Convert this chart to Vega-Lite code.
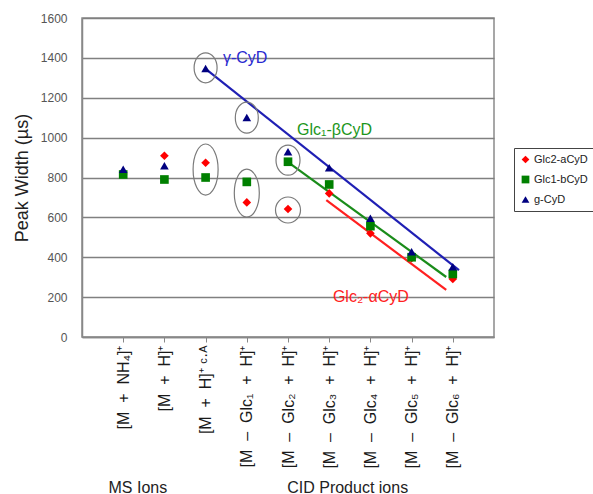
{
  "$schema": "https://vega.github.io/schema/vega-lite/v6.json",
  "width": 412,
  "height": 319,
  "autosize": {"type": "none"},
  "padding": {"left": 82, "top": 18, "right": 99, "bottom": 157},
  "background": "white",
  "config": {
    "view": {"stroke": "#8a8a8a", "strokeWidth": 1.5},
    "font": "Liberation Sans",
    "axisX": {
      "labelAngle": -90,
      "labelAlign": "right",
      "labelBaseline": "middle",
      "labelFontSize": 16,
      "labelColor": "#1a1a1a",
      "labelPadding": 3,
      "labelOverlap": false,
      "labelFlush": false,
      "labelLimit": 300,
      "tickSize": 5,
      "tickColor": "#888888",
      "domainColor": "#888888",
      "domainWidth": 1.5,
      "grid": false,
      "titleFontSize": 16,
      "titleFontWeight": "normal",
      "titleColor": "#222222",
      "titleAnchor": "start",
      "titleAlign": "left",
      "titleBaseline": "alphabetic",
      "titleX": 26,
      "titleY": 155
    },
    "axisY": {
      "grid": true,
      "gridColor": "#808080",
      "gridWidth": 1.5,
      "ticks": false,
      "labelFontSize": 12,
      "labelColor": "#555555",
      "labelPadding": 15,
      "labelOverlap": false,
      "domainColor": "#888888",
      "domainWidth": 1.5,
      "titleFontSize": 18,
      "titleFontWeight": "normal",
      "titleColor": "#222222",
      "titlePadding": 9
    }
  },
  "datasets": {
    "points": [
      {"series": "Glc2-aCyD", "x": 1, "y": 818},
      {"series": "Glc2-aCyD", "x": 2, "y": 909},
      {"series": "Glc2-aCyD", "x": 3, "y": 874},
      {"series": "Glc2-aCyD", "x": 4, "y": 675},
      {"series": "Glc2-aCyD", "x": 5, "y": 642},
      {"series": "Glc2-aCyD", "x": 6, "y": 720},
      {"series": "Glc2-aCyD", "x": 7, "y": 520},
      {"series": "Glc2-aCyD", "x": 8, "y": 395},
      {"series": "Glc2-aCyD", "x": 9, "y": 291},
      {"series": "Glc1-bCyD", "x": 1, "y": 815},
      {"series": "Glc1-bCyD", "x": 2, "y": 790},
      {"series": "Glc1-bCyD", "x": 3, "y": 800},
      {"series": "Glc1-bCyD", "x": 4, "y": 778},
      {"series": "Glc1-bCyD", "x": 5, "y": 879},
      {"series": "Glc1-bCyD", "x": 6, "y": 765},
      {"series": "Glc1-bCyD", "x": 7, "y": 556},
      {"series": "Glc1-bCyD", "x": 8, "y": 400},
      {"series": "Glc1-bCyD", "x": 9, "y": 316},
      {"series": "g-CyD", "x": 1, "y": 842},
      {"series": "g-CyD", "x": 2, "y": 859},
      {"series": "g-CyD", "x": 3, "y": 1347},
      {"series": "g-CyD", "x": 4, "y": 1101},
      {"series": "g-CyD", "x": 5, "y": 929},
      {"series": "g-CyD", "x": 6, "y": 849},
      {"series": "g-CyD", "x": 7, "y": 595},
      {"series": "g-CyD", "x": 8, "y": 428},
      {"series": "g-CyD", "x": 9, "y": 352}
    ],
    "trend": [
      {"series": "Glc2-aCyD", "x": 5.93, "y": 687},
      {"series": "Glc2-aCyD", "x": 8.84, "y": 236},
      {"series": "Glc1-bCyD", "x": 5.0, "y": 877},
      {"series": "Glc1-bCyD", "x": 8.84, "y": 301},
      {"series": "g-CyD", "x": 3.0, "y": 1345},
      {"series": "g-CyD", "x": 9.15, "y": 335}
    ],
    "notes": [
      {"series": "g-CyD", "label": "γ-CyD", "x": 3.42, "y": 1399},
      {"series": "Glc1-bCyD", "label": "Glc₁-βCyD", "x": 5.22, "y": 1038},
      {"series": "Glc2-aCyD", "label": "Glc₂-αCyD", "x": 6.09, "y": 200}
    ],
    "ellipses": [
      {"eid": "e1", "x": 3, "y": 1350},
      {"eid": "e2", "x": 4, "y": 1100},
      {"eid": "e3", "x": 3, "y": 840},
      {"eid": "e4", "x": 4, "y": 722},
      {"eid": "e5", "x": 5, "y": 887},
      {"eid": "e6", "x": 5, "y": 637}
    ],
    "divider": [{"x": 2.37, "y": 0}]
  },
  "layer": [
    {
      "data": {"name": "divider"},
      "mark": {"type": "rule", "color": "#111111", "strokeWidth": 2, "strokeDash": [2, 2.5]},
      "encoding": {
        "x": {
          "field": "x", "type": "quantitative",
          "scale": {"domain": [0, 10], "nice": false},
          "axis": {
            "values": [1, 2, 3, 4, 5, 6, 7, 8, 9],
            "labelExpr": "['[M\u00a0\u00a0+\u00a0\u00a0NH₄]⁺', '[M\u00a0\u00a0+\u00a0\u00a0H]⁺\u00a0\u00a0\u00a0', '[M\u00a0\u00a0+\u00a0\u00a0H]⁺ ᶜ·ᴬ\u00a0', '[M\u00a0\u00a0–\u00a0\u00a0Glc₁\u00a0\u00a0+\u00a0\u00a0H]⁺', '[M\u00a0\u00a0–\u00a0\u00a0Glc₂\u00a0\u00a0+\u00a0\u00a0H]⁺', '[M\u00a0\u00a0–\u00a0\u00a0Glc₃\u00a0\u00a0+\u00a0\u00a0H]⁺', '[M\u00a0\u00a0–\u00a0\u00a0Glc₄\u00a0\u00a0+\u00a0\u00a0H]⁺', '[M\u00a0\u00a0–\u00a0\u00a0Glc₅\u00a0\u00a0+\u00a0\u00a0H]⁺', '[M\u00a0\u00a0–\u00a0\u00a0Glc₆\u00a0\u00a0+\u00a0\u00a0H]⁺'][datum.value - 1]",
            "title": "MS Ions\u00a0\u00a0\u00a0\u00a0\u00a0\u00a0\u00a0\u00a0\u00a0\u00a0\u00a0\u00a0\u00a0\u00a0\u00a0\u00a0\u00a0\u00a0\u00a0\u00a0\u00a0\u00a0\u00a0\u00a0\u00a0\u00a0\u00a0CID Product ions"
          }
        },
        "y": {
          "field": "y", "type": "quantitative",
          "scale": {"domain": [0, 1600], "nice": false},
          "axis": {
            "values": [0, 200, 400, 600, 800, 1000, 1200, 1400, 1600],
            "format": "d",
            "title": "Peak Width  (µs)"
          }
        }
      }
    },
    {
      "data": {"name": "trend"},
      "mark": {"type": "line", "strokeWidth": 2.2},
      "encoding": {
        "x": {"field": "x", "type": "quantitative", "scale": {"domain": [0, 10], "nice": false}, "axis": {"values": [1, 2, 3, 4, 5, 6, 7, 8, 9], "labelExpr": "['[M\u00a0\u00a0+\u00a0\u00a0NH₄]⁺', '[M\u00a0\u00a0+\u00a0\u00a0H]⁺\u00a0\u00a0\u00a0', '[M\u00a0\u00a0+\u00a0\u00a0H]⁺ ᶜ·ᴬ\u00a0', '[M\u00a0\u00a0–\u00a0\u00a0Glc₁\u00a0\u00a0+\u00a0\u00a0H]⁺', '[M\u00a0\u00a0–\u00a0\u00a0Glc₂\u00a0\u00a0+\u00a0\u00a0H]⁺', '[M\u00a0\u00a0–\u00a0\u00a0Glc₃\u00a0\u00a0+\u00a0\u00a0H]⁺', '[M\u00a0\u00a0–\u00a0\u00a0Glc₄\u00a0\u00a0+\u00a0\u00a0H]⁺', '[M\u00a0\u00a0–\u00a0\u00a0Glc₅\u00a0\u00a0+\u00a0\u00a0H]⁺', '[M\u00a0\u00a0–\u00a0\u00a0Glc₆\u00a0\u00a0+\u00a0\u00a0H]⁺'][datum.value - 1]", "title": "MS Ions\u00a0\u00a0\u00a0\u00a0\u00a0\u00a0\u00a0\u00a0\u00a0\u00a0\u00a0\u00a0\u00a0\u00a0\u00a0\u00a0\u00a0\u00a0\u00a0\u00a0\u00a0\u00a0\u00a0\u00a0\u00a0\u00a0\u00a0CID Product ions"}},
        "y": {"field": "y", "type": "quantitative", "scale": {"domain": [0, 1600], "nice": false}, "axis": {"values": [0, 200, 400, 600, 800, 1000, 1200, 1400, 1600], "format": "d", "title": "Peak Width  (µs)"}},
        "color": {
          "field": "series", "type": "nominal",
          "scale": {"domain": ["Glc2-aCyD", "Glc1-bCyD", "g-CyD"], "range": ["#ff2020", "#1a8c1a", "#1f1fb4"]},
          "legend": null
        },
        "detail": {"field": "series"}
      }
    },
    {
      "data": {"name": "points"},
      "mark": {"type": "point", "filled": true, "opacity": 1, "size": 75},
      "encoding": {
        "x": {"field": "x", "type": "quantitative", "scale": {"domain": [0, 10], "nice": false}, "axis": {"values": [1, 2, 3, 4, 5, 6, 7, 8, 9], "labelExpr": "['[M\u00a0\u00a0+\u00a0\u00a0NH₄]⁺', '[M\u00a0\u00a0+\u00a0\u00a0H]⁺\u00a0\u00a0\u00a0', '[M\u00a0\u00a0+\u00a0\u00a0H]⁺ ᶜ·ᴬ\u00a0', '[M\u00a0\u00a0–\u00a0\u00a0Glc₁\u00a0\u00a0+\u00a0\u00a0H]⁺', '[M\u00a0\u00a0–\u00a0\u00a0Glc₂\u00a0\u00a0+\u00a0\u00a0H]⁺', '[M\u00a0\u00a0–\u00a0\u00a0Glc₃\u00a0\u00a0+\u00a0\u00a0H]⁺', '[M\u00a0\u00a0–\u00a0\u00a0Glc₄\u00a0\u00a0+\u00a0\u00a0H]⁺', '[M\u00a0\u00a0–\u00a0\u00a0Glc₅\u00a0\u00a0+\u00a0\u00a0H]⁺', '[M\u00a0\u00a0–\u00a0\u00a0Glc₆\u00a0\u00a0+\u00a0\u00a0H]⁺'][datum.value - 1]", "title": "MS Ions\u00a0\u00a0\u00a0\u00a0\u00a0\u00a0\u00a0\u00a0\u00a0\u00a0\u00a0\u00a0\u00a0\u00a0\u00a0\u00a0\u00a0\u00a0\u00a0\u00a0\u00a0\u00a0\u00a0\u00a0\u00a0\u00a0\u00a0CID Product ions"}},
        "y": {"field": "y", "type": "quantitative", "scale": {"domain": [0, 1600], "nice": false}, "axis": {"values": [0, 200, 400, 600, 800, 1000, 1200, 1400, 1600], "format": "d", "title": "Peak Width  (µs)"}},
        "color": {
          "field": "series", "type": "nominal",
          "scale": {"domain": ["Glc2-aCyD", "Glc1-bCyD", "g-CyD"], "range": ["#ff0000", "#008000", "#000080"]},
          "legend": {
            "orient": "none",
            "legendX": 432,
            "legendY": 130,
            "title": null,
            "strokeColor": "#444444",
            "fillColor": "#ffffff",
            "padding": 6,
            "labelFontSize": 11,
            "labelColor": "#222222",
            "labelOffset": 3,
            "symbolSize": 60,
            "rowPadding": 8
          }
        },
        "shape": {
          "field": "series", "type": "nominal",
          "scale": {"domain": ["Glc2-aCyD", "Glc1-bCyD", "g-CyD"], "range": ["diamond", "square", "triangle-up"]},
          "legend": {
            "orient": "none",
            "legendX": 432,
            "legendY": 130,
            "title": null,
            "strokeColor": "#444444",
            "fillColor": "#ffffff",
            "padding": 6,
            "labelFontSize": 11,
            "labelColor": "#222222",
            "labelOffset": 3,
            "symbolSize": 60,
            "rowPadding": 8
          }
        }
      }
    },
    {
      "data": {"name": "ellipses"},
      "mark": {"type": "point", "filled": false, "stroke": "#7a7a7a", "strokeWidth": 1.2, "size": 2704, "opacity": 1},
      "encoding": {
        "x": {"field": "x", "type": "quantitative", "scale": {"domain": [0, 10], "nice": false}, "axis": {"values": [1, 2, 3, 4, 5, 6, 7, 8, 9], "labelExpr": "['[M\u00a0\u00a0+\u00a0\u00a0NH₄]⁺', '[M\u00a0\u00a0+\u00a0\u00a0H]⁺\u00a0\u00a0\u00a0', '[M\u00a0\u00a0+\u00a0\u00a0H]⁺ ᶜ·ᴬ\u00a0', '[M\u00a0\u00a0–\u00a0\u00a0Glc₁\u00a0\u00a0+\u00a0\u00a0H]⁺', '[M\u00a0\u00a0–\u00a0\u00a0Glc₂\u00a0\u00a0+\u00a0\u00a0H]⁺', '[M\u00a0\u00a0–\u00a0\u00a0Glc₃\u00a0\u00a0+\u00a0\u00a0H]⁺', '[M\u00a0\u00a0–\u00a0\u00a0Glc₄\u00a0\u00a0+\u00a0\u00a0H]⁺', '[M\u00a0\u00a0–\u00a0\u00a0Glc₅\u00a0\u00a0+\u00a0\u00a0H]⁺', '[M\u00a0\u00a0–\u00a0\u00a0Glc₆\u00a0\u00a0+\u00a0\u00a0H]⁺'][datum.value - 1]", "title": "MS Ions\u00a0\u00a0\u00a0\u00a0\u00a0\u00a0\u00a0\u00a0\u00a0\u00a0\u00a0\u00a0\u00a0\u00a0\u00a0\u00a0\u00a0\u00a0\u00a0\u00a0\u00a0\u00a0\u00a0\u00a0\u00a0\u00a0\u00a0CID Product ions"}},
        "y": {"field": "y", "type": "quantitative", "scale": {"domain": [0, 1600], "nice": false}, "axis": {"values": [0, 200, 400, 600, 800, 1000, 1200, 1400, 1600], "format": "d", "title": "Peak Width  (µs)"}},
        "shape": {
          "field": "eid", "type": "nominal",
          "scale": {
            "domain": ["e1", "e2", "e3", "e4", "e5", "e6"],
            "range": [
              "M0,-0.577C0.244,-0.577 0.442,-0.319 0.442,0C0.442,0.319 0.244,0.577 0,0.577C-0.244,0.577 -0.442,0.319 -0.442,0C-0.442,-0.319 -0.244,-0.577 0,-0.577Z",
              "M0,-0.596C0.244,-0.596 0.442,-0.329 0.442,0C0.442,0.329 0.244,0.596 0,0.596C-0.244,0.596 -0.442,0.329 -0.442,0C-0.442,-0.329 -0.244,-0.596 0,-0.596Z",
              "M0,-0.981C0.266,-0.981 0.481,-0.542 0.481,0C0.481,0.542 0.266,0.981 0,0.981C-0.266,0.981 -0.481,0.542 -0.481,0C-0.481,-0.542 -0.266,-0.981 0,-0.981Z",
              "M0,-0.923C0.266,-0.923 0.481,-0.510 0.481,0C0.481,0.510 0.266,0.923 0,0.923C-0.266,0.923 -0.481,0.510 -0.481,0C-0.481,-0.510 -0.266,-0.923 0,-0.923Z",
              "M0,-0.577C0.255,-0.577 0.462,-0.319 0.462,0C0.462,0.319 0.255,0.577 0,0.577C-0.255,0.577 -0.462,0.319 -0.462,0C-0.462,-0.319 -0.255,-0.577 0,-0.577Z",
              "M0,-0.5C0.266,-0.5 0.481,-0.276 0.481,0C0.481,0.276 0.266,0.5 0,0.5C-0.266,0.5 -0.481,0.276 -0.481,0C-0.481,-0.276 -0.266,-0.5 0,-0.5Z"
            ]
          },
          "legend": null
        }
      }
    },
    {
      "data": {"name": "notes"},
      "mark": {"type": "text", "align": "left", "baseline": "middle", "fontSize": 16},
      "encoding": {
        "x": {"field": "x", "type": "quantitative", "scale": {"domain": [0, 10], "nice": false}, "axis": {"values": [1, 2, 3, 4, 5, 6, 7, 8, 9], "labelExpr": "['[M\u00a0\u00a0+\u00a0\u00a0NH₄]⁺', '[M\u00a0\u00a0+\u00a0\u00a0H]⁺\u00a0\u00a0\u00a0', '[M\u00a0\u00a0+\u00a0\u00a0H]⁺ ᶜ·ᴬ\u00a0', '[M\u00a0\u00a0–\u00a0\u00a0Glc₁\u00a0\u00a0+\u00a0\u00a0H]⁺', '[M\u00a0\u00a0–\u00a0\u00a0Glc₂\u00a0\u00a0+\u00a0\u00a0H]⁺', '[M\u00a0\u00a0–\u00a0\u00a0Glc₃\u00a0\u00a0+\u00a0\u00a0H]⁺', '[M\u00a0\u00a0–\u00a0\u00a0Glc₄\u00a0\u00a0+\u00a0\u00a0H]⁺', '[M\u00a0\u00a0–\u00a0\u00a0Glc₅\u00a0\u00a0+\u00a0\u00a0H]⁺', '[M\u00a0\u00a0–\u00a0\u00a0Glc₆\u00a0\u00a0+\u00a0\u00a0H]⁺'][datum.value - 1]", "title": "MS Ions\u00a0\u00a0\u00a0\u00a0\u00a0\u00a0\u00a0\u00a0\u00a0\u00a0\u00a0\u00a0\u00a0\u00a0\u00a0\u00a0\u00a0\u00a0\u00a0\u00a0\u00a0\u00a0\u00a0\u00a0\u00a0\u00a0\u00a0CID Product ions"}},
        "y": {"field": "y", "type": "quantitative", "scale": {"domain": [0, 1600], "nice": false}, "axis": {"values": [0, 200, 400, 600, 800, 1000, 1200, 1400, 1600], "format": "d", "title": "Peak Width  (µs)"}},
        "text": {"field": "label"},
        "color": {
          "field": "series", "type": "nominal",
          "scale": {"domain": ["Glc2-aCyD", "Glc1-bCyD", "g-CyD"], "range": ["#ff2222", "#1c961c", "#2a2ad0"]},
          "legend": null
        }
      }
    }
  ],
  "resolve": {"scale": {"color": "independent", "shape": "independent"}}
}
